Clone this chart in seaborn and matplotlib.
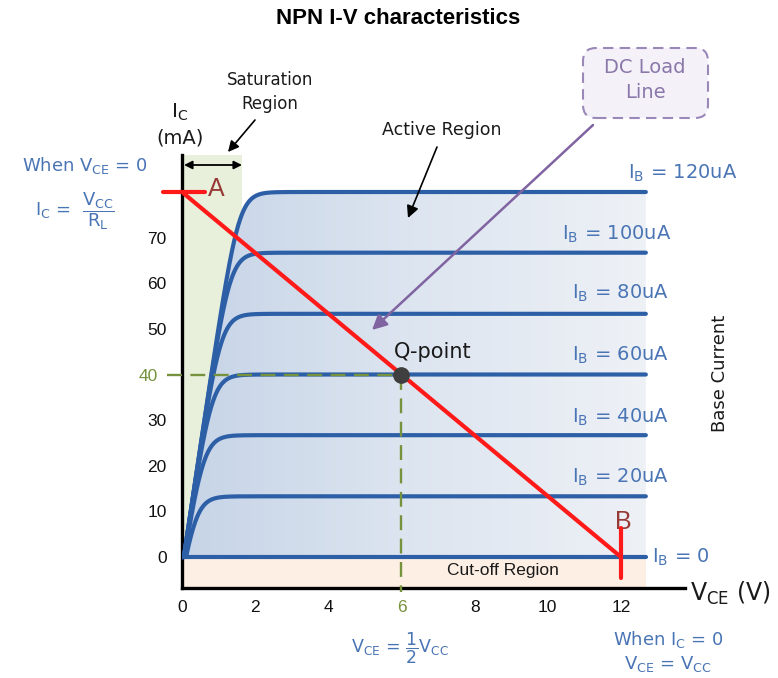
import numpy as np
import pandas as pd
import matplotlib
matplotlib.use("Agg")
import matplotlib.pyplot as plt
import seaborn as sns
from matplotlib.patches import Polygon, FancyBboxPatch
from matplotlib.colors import LinearSegmentedColormap
from matplotlib.transforms import ScaledTranslation

# ---------------- data ----------------
ib_ua = [0, 20, 40, 60, 80, 100, 120]                 # base current per curve
ib_labels = ["0", "20uA", "40uA", "60uA", "80uA", "100uA", "120uA"]
ic_sat_ma = [0, 13.3, 26.7, 40, 53.3, 66.7, 80]       # flat collector current per curve
vcc = 12            # V  (point B)
ic_max = 80         # mA (point A, Vcc/RL)
q_v, q_ic = 6, 40   # Q-point
x_ticks = [0, 2, 4, 6, 8, 10, 12]
y_ticks = [0, 10, 20, 30, 40, 50, 60, 70]

# ---------------- curve rendering (knee shape) ----------------
sat_slope = 53.6    # mA/V steep edge of saturation region
knee_k = 5.2
v_start = 0.05
v_end = 12.68

# ---------------- style ----------------
sns.set_theme(style="white")
plt.rcParams["font.family"] = ["DejaVu Sans"]
plt.rcParams["mathtext.fontset"] = "dejavusans"

CURVE = "#2d5fa6"
LBL = "#4a75b5"
OLIVE = "#76923c"
RED = "#ff1a1a"
PURPLE = "#8064a2"

W, H = 778, 678
fig = plt.figure(figsize=(W / 100, H / 100), dpi=100)
fig.patch.set_facecolor("white")

# axes placed so that V=0 -> px 182, V=12 -> px 621, I=0 -> py 557, I=80 -> py 192
px_per_v = 36.58
px_per_ma = 4.5625
ax_l, ax_r, ax_t, ax_b = 182, 685, 155, 588
ax = fig.add_axes([ax_l / W, 1 - ax_b / H, (ax_r - ax_l) / W, (ax_b - ax_t) / H])
ax.set_facecolor("white")
xlim = (0, (ax_r - ax_l) / px_per_v)
ylim = ((557 - ax_b) / px_per_ma, (557 - ax_t) / px_per_ma)


def fx(px):
    return px / W


def fy(py):
    return 1 - py / H


def dv(px):
    return (px - 182) / px_per_v


def di(py):
    return (557 - py) / px_per_ma


# build curves
V = np.linspace(0, v_end, 900)
rows = []
for ib, lvl in zip(ib_ua, ic_sat_ma):
    ic = lvl - (sat_slope / knee_k) * np.log1p(np.exp(-knee_k * (V - v_start - lvl / sat_slope)))
    ic = np.clip(ic, 0, None)
    rows.append(pd.DataFrame({"V": V, "Ic": ic, "IB": ib}))
df = pd.concat(rows, ignore_index=True)

# region fills
ax.fill_between([0, dv(242)], 0, ylim[1], color="#e8f0dc", zorder=0.5, lw=0)
ax.fill_between([0, v_end], ylim[0], 0, color="#fdefe4", zorder=0.5, lw=0)

top = df[df["IB"] == max(ib_ua)]
poly_xy = np.vstack([np.column_stack([top["V"], top["Ic"]]), [[v_end, 0], [0, 0]]])
clip = Polygon(poly_xy, closed=True, transform=ax.transData, facecolor="none", edgecolor="none")
ax.add_patch(clip)
cmap = LinearSegmentedColormap.from_list("grad", ["#c6d4e7", "#dde5f0", "#eef1f6"])
grad = np.linspace(0, 1, 256).reshape(1, -1)
im = ax.imshow(grad, extent=[0, v_end, 0, max(ic_sat_ma) + 1], aspect="auto",
               cmap=cmap, zorder=1, interpolation="bilinear")
im.set_clip_path(clip)

# curves
sns.lineplot(data=df, x="V", y="Ic", hue="IB", palette={ib: CURVE for ib in ib_ua},
             legend=False, estimator=None, sort=False, linewidth=3.0, ax=ax,
             zorder=3, solid_capstyle="round")

# dashed guide lines to Q-point
ax.plot([dv(167), q_v], [q_ic, q_ic], color=OLIVE, lw=1.7, dashes=(6.3, 3.6),
        zorder=4, clip_on=False)
ax.plot([q_v, q_v], [q_ic, di(592)], color=OLIVE, lw=1.7, dashes=(6.3, 3.6),
        zorder=4, clip_on=False)

# load line
ax.plot([0, vcc], [ic_max, 0], color=RED, lw=3.0, zorder=5, solid_capstyle="butt")
ax.plot([dv(163), dv(205)], [ic_max, ic_max], color=RED, lw=3.0, zorder=5, clip_on=False)
ax.plot([vcc, vcc], [di(528), di(578)], color=RED, lw=3.0, zorder=5, clip_on=False)

# Q-point
ax.plot([q_v], [q_ic], "o", ms=11, color="#3f3f3f", zorder=6)
ax.text(dv(433), di(352), "Q-point", fontsize=15, color="#1a1a1a",
        ha="center", va="center", zorder=7)

# A / B labels
ax.text(dv(216), di(189), "A", fontsize=18, color="#973a36", ha="center", va="center",
        family="Liberation Sans")
ax.text(dv(623), di(522), "B", fontsize=18, color="#973a36", ha="center", va="center",
        family="Liberation Sans")

# IB labels
lab_pos = [(652, 557), (572, 477), (572, 417), (572, 355), (572, 293), (562, 234), (628, 173)]
for lab, (px, py) in zip(ib_labels, lab_pos):
    ax.text(dv(px), di(py), r"$\mathregular{I_B}$ = " + lab, fontsize=14, color=LBL,
            ha="left", va="center", clip_on=False)

# axes styling
ax.set_xlim(*xlim)
ax.set_ylim(*ylim)
for s in ["top", "right"]:
    ax.spines[s].set_visible(False)
for s in ["left", "bottom"]:
    ax.spines[s].set_linewidth(2.4)
    ax.spines[s].set_color("black")
    ax.spines[s].set_capstyle("projecting")
ax.set_xticks(x_ticks)
ax.set_xticklabels([str(t) for t in x_ticks])
ax.set_yticks(y_ticks)
ax.set_yticklabels([str(t) for t in y_ticks])
ax.tick_params(axis="both", length=0, labelsize=12.5, labelcolor="#111111")
ax.tick_params(axis="x", pad=9)
ax.tick_params(axis="y", pad=11)
ax.set_xlabel("")
ax.set_ylabel("")
for lab in ax.get_xticklabels() + ax.get_yticklabels():
    lab.set_fontfamily("Liberation Sans")
for lab in ax.get_xticklabels():
    if lab.get_text() == str(q_v):
        lab.set_color(OLIVE)
for lab in ax.get_yticklabels():
    if lab.get_text() == str(q_ic):
        lab.set_color(OLIVE)
        lab.set_transform(lab.get_transform() + ScaledTranslation(-0.09, 0, fig.dpi_scale_trans))
ax.grid(False)

# arrows
ax.annotate("", xy=(dv(372), di(330)), xytext=(dv(593), di(125)),
            arrowprops=dict(arrowstyle="-|>", color=PURPLE, lw=1.8, mutation_scale=22,
                            shrinkA=0, shrinkB=0), annotation_clip=False, zorder=8)
ax.annotate("", xy=(dv(408), di(218)), xytext=(dv(437), di(147)),
            arrowprops=dict(arrowstyle="-|>", color="black", lw=1.2, mutation_scale=18,
                            shrinkA=0, shrinkB=0), annotation_clip=False, zorder=8)
ax.annotate("", xy=(dv(228), di(152)), xytext=(dv(255), di(120)),
            arrowprops=dict(arrowstyle="-|>", color="black", lw=1.2, mutation_scale=16,
                            shrinkA=0, shrinkB=0), annotation_clip=False, zorder=8)
ax.annotate("", xy=(dv(184), di(165)), xytext=(dv(242), di(165)),
            arrowprops=dict(arrowstyle="<|-|>", color="black", lw=1.3, mutation_scale=12,
                            shrinkA=0, shrinkB=0), annotation_clip=False, zorder=8)

# DC load line box
box = FancyBboxPatch((583 / 100, (H - 118) / 100), 1.25, 0.70,
                     boxstyle="round,pad=0,rounding_size=0.13",
                     transform=fig.dpi_scale_trans, facecolor="#f4f1f8",
                     edgecolor="#9a88b9", lw=1.5, linestyle=(0, (5, 3)))
fig.add_artist(box)
fig.text(fx(645), fy(80), "DC Load\nLine", fontsize=14, color="#8a78aa",
         ha="center", va="center", linespacing=1.35)

# texts
fig.text(fx(398), fy(19), "NPN I-V characteristics", fontsize=16, fontweight="bold",
         family="Liberation Sans", color="black", ha="center", va="center")
fig.text(fx(442), fy(130), "Active Region", fontsize=12.5, color="#1a1a1a",
         ha="center", va="center")
fig.text(fx(270), fy(92), "Saturation\nRegion", fontsize=12, color="#1a1a1a",
         ha="center", va="center", linespacing=1.4)
fig.text(fx(180), fy(112), r"$\mathregular{I_C}$", fontsize=14.5, color="#1a1a1a",
         ha="center", va="center")
fig.text(fx(180), fy(138), "(mA)", fontsize=14, color="#1a1a1a", ha="center", va="center")
fig.text(fx(85), fy(165), r"When $\mathregular{V_{CE}}$ = 0", fontsize=13, color=LBL,
         ha="center", va="center")
fig.text(fx(75), fy(211), r"$\mathrm{I_C}$ =  $\dfrac{\mathrm{V_{CC}}}{\mathrm{R_L}}$",
         fontsize=13, color=LBL, ha="center", va="center")
fig.text(fx(400), fy(648), r"$\mathrm{V_{CE}}$ = $\dfrac{1}{2}\mathrm{V_{CC}}$",
         fontsize=12.5, color=LBL, ha="center", va="center")
fig.text(fx(668), fy(640), r"When $\mathregular{I_C}$ = 0", fontsize=13, color=LBL,
         ha="center", va="center")
fig.text(fx(668), fy(664), r"$\mathregular{V_{CE}}$ = $\mathregular{V_{CC}}$", fontsize=13,
         color=LBL, ha="center", va="center")
fig.text(fx(690), fy(593), r"$\mathregular{V_{CE}}$ (V)", fontsize=17, color="#1a1a1a",
         ha="left", va="center")
fig.text(fx(720), fy(373), "Base Current", fontsize=13, color="#1a1a1a",
         ha="center", va="center", rotation=90)
ax.text(dv(503), di(571), "Cut-off Region", fontsize=12.5, color="#1a1a1a",
        ha="center", va="center", family="Liberation Sans", zorder=7)

fig.savefig("out.png", dpi=100, facecolor="white")
